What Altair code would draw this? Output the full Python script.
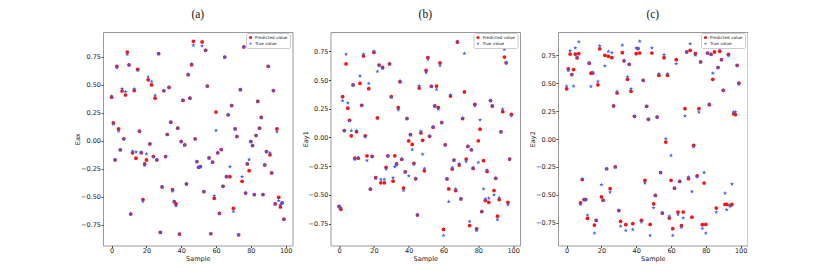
import altair as alt
import pandas as pd

SAMPLES = list(range(100))
SERIES = ["Predicted value", "True value"]

# ---------------- panel (a): Eax ----------------
a_pred = [0.39, 0.16, -0.17, 0.665, 0.107, -0.08, 0.445, 0.018, 0.41, 0.794,
          0.68, -0.654, -0.107, 0.45, -0.155, 0.639, 0.087, -0.107, -0.525, -0.206,
          -0.17, 0.546, -0.027, 0.50, -0.14, 0.382, -0.17, 0.779, -0.818, -0.412,
          0.448, -0.14, 0.057, 0.478, 0.167, -0.436, -0.543, -0.564, 0.113, -0.833,
          -0.006, 0.361, -0.036, -0.385, 0.591, 0.382, 0.68, 0.89, 0.018, -0.185,
          -0.236, -0.23, 0.884, -0.454, 0.809, 0.49, -0.152, -0.83, -0.19, -0.513,
          0.257, -0.107, -0.648, -0.078, -0.406, 0.749, -0.32, 0.233, -0.32, 0.316,
          -0.603, 0.107, 0.039, -0.839, 0.457, -0.361, 0.839, -0.466, -0.206, -0.266,
          -0.006, -0.042, -0.48, 0.048, 0.352, 0.113, 0.21, -0.48, -0.215, -0.096,
          0.666, -0.125, -0.287, 0.45, -0.564, 0.107, -0.504, -0.59, -0.555, -0.70]
a_true = [0.40, 0.15, -0.17, 0.654, 0.087, -0.08, 0.466, 0.02, 0.44, 0.773,
          0.675, -0.65, -0.093, 0.466, -0.10, 0.63, 0.087, -0.10, -0.54, -0.22,
          -0.116, 0.57, -0.027, 0.531, -0.14, 0.406, -0.17, 0.779, -0.818, -0.412,
          0.448, -0.14, 0.057, 0.478, 0.167, -0.45, -0.543, -0.58, 0.113, -0.833,
          -0.006, 0.361, -0.036, -0.385, 0.591, 0.382, 0.69, 0.854, 0.018, -0.185,
          -0.236, -0.23, 0.848, -0.454, 0.809, 0.49, -0.152, -0.83, -0.19, -0.49,
          0.093, -0.107, -0.648, -0.078, -0.406, 0.749, -0.32, 0.233, -0.23, 0.316,
          -0.63, 0.107, 0.039, -0.839, 0.457, -0.32, 0.839, -0.466, -0.206, -0.167,
          -0.006, -0.042, -0.48, 0.048, 0.352, 0.113, 0.212, -0.48, -0.215, -0.096,
          0.666, -0.107, -0.287, 0.45, -0.564, 0.083, -0.534, -0.57, -0.555, -0.70]

# ---------------- panel (b): Eay1 ----------------
b_pred = [-0.60, -0.625, 0.355, 0.06, 0.64, 0.255, 0.15, 0.015, 0.457, -0.18,
          0.05, -0.18, 0.47, 0.28, 0.71, 0.015, -0.16, 0.425, -0.45, -0.165,
          0.74, -0.35, 0.17, 0.63, -0.395, 0.61, -0.395, -0.26, -0.16, 0.64,
          0.355, -0.38, -0.16, -0.23, 0.26, 0.485, -0.19, -0.44, -0.30, 0.165,
          -0.03, 0.025, -0.06, -0.225, -0.36, -0.675, 0.43, 0.04, -0.025, -0.29,
          0.585, 0.695, 0.01, 0.445, 0.09, 0.275, 0.448, 0.26, 0.65, 0.13,
          -0.80, -0.064, -0.361, -0.448, 0.361, -0.275, -0.197, -0.462, 0.829, -0.24,
          -0.535, 0.165, 0.396, -0.188, -0.078, -0.766, -0.107, -0.269, 0.289, -0.795,
          -0.029, 0.072, -0.645, -0.202, -0.549, -0.295, -0.564, 0.321, 0.275, -0.462,
          -0.355, -0.685, -0.54, 0.049, 0.225, 0.70, 0.65, -0.564, -0.188, 0.202]
b_true = [-0.607, -0.61, 0.32, 0.06, 0.725, 0.30, 0.145, 0.06, 0.46, -0.19,
          0.06, -0.175, 0.535, 0.28, 0.725, 0.005, -0.20, 0.47, -0.45, -0.165,
          0.75, -0.355, 0.575, 0.625, -0.365, 0.60, -0.365, -0.275, -0.165, 0.64,
          0.35, -0.35, -0.255, -0.24, 0.24, 0.495, -0.185, -0.46, -0.30, 0.165,
          -0.335, 0.02, -0.105, -0.235, -0.355, -0.67, 0.45, 0.055, -0.145, -0.27,
          0.565, 0.68, 0.015, 0.445, 0.095, 0.27, 0.419, 0.246, 0.627, 0.13,
          -0.853, -0.064, -0.361, -0.558, 0.37, -0.26, -0.197, -0.448, 0.838, -0.228,
          -0.535, 0.17, 0.731, -0.208, -0.078, -0.731, -0.107, -0.26, 0.275, -0.81,
          -0.217, 0.153, -0.645, -0.448, -0.535, -0.283, -0.529, 0.321, 0.269, -0.50,
          -0.355, -0.714, -0.523, 0.049, 0.246, 0.766, 0.65, -0.584, -0.188, 0.188]

# ---------------- panel (c): Eay2 ----------------
c_pred = [0.45, 0.628, 0.76, 0.577, 0.622, 0.759, 0.726, 0.765, -0.571, -0.363,
          -0.542, -0.542, -0.711, 0.679, 0.589, 0.59, -0.77, -0.729, 0.485, 0.807,
          -0.518, -0.548, 0.749, -0.266, 0.74, -0.445, 0.728, 0.296, -0.25, 0.412,
          -0.64, -0.737, 0.773, 0.70, -0.767, 0.534, 0.669, 0.427, -0.758, 0.203,
          0.764, 0.81, 0.77, -0.728, 0.525, -0.37, 0.293, 0.176, -0.764, 0.77,
          -0.58, -0.505, 0.197, 0.57, -0.30, -0.663, 0.728, -0.027, 0.57, -0.707,
          -0.37, -0.803, -0.44, 0.71, -0.654, -0.38, -0.776, -0.654, 0.272, 0.78,
          -0.355, 0.794, -0.70, -0.057, 0.764, -0.33, 0.272, 0.69, -0.767, -0.394,
          -0.764, 0.77, 0.307, 0.758, 0.534, 0.78, -0.618, 0.64, 0.785, 0.71,
          0.436, -0.585, -0.585, 0.758, -0.594, -0.585, 0.227, 0.218, 0.66, 0.50]
c_true = [0.473, 0.613, 0.79, 0.577, 0.473, 0.815, 0.732, 0.872, -0.586, -0.354,
          -0.542, -0.542, -0.682, 0.684, 0.47, 0.595, -0.842, -0.729, 0.515, 0.836,
          -0.408, -0.548, 0.654, -0.266, 0.785, -0.475, 0.773, 0.296, -0.25, 0.427,
          -0.64, -0.78, 0.84, 0.70, -0.818, 0.555, 0.669, 0.45, -0.81, 0.203,
          0.815, 0.81, 0.875, -0.743, 0.525, -0.394, 0.293, 0.176, -0.863, 0.815,
          -0.615, -0.505, 0.197, 0.585, -0.30, -0.663, 0.755, 0.003, 0.585, -0.69,
          -0.146, -0.863, -0.44, 0.675, -0.675, -0.38, -0.79, -0.707, 0.206, 0.78,
          -0.34, 0.854, -0.47, -0.07, 0.75, -0.34, 0.24, 0.69, -0.80, -0.30,
          -0.842, 0.77, 0.316, 0.758, 0.59, 0.824, -0.654, 0.64, 0.81, 0.71,
          0.436, -0.484, -0.633, 0.743, -0.60, -0.403, 0.242, 0.242, 0.654, 0.49]

RED = "#f41414"
BLUE = "#3a5cf6"
STAR = ("M0,-1L0.2245,-0.309L0.951,-0.309L0.363,0.118L0.588,0.809L0,0.382"
        "L-0.588,0.809L-0.363,0.118L-0.951,-0.309L-0.2245,-0.309Z")

Y_TICKS = [-0.75, -0.5, -0.25, 0.0, 0.25, 0.5, 0.75]
X_TICKS = [0, 20, 40, 60, 80, 100]


def panel(pred, true, ytitle, title, ydomain):
    df = pd.DataFrame({
        "Sample": SAMPLES + SAMPLES,
        "value": pred + true,
        "series": [SERIES[0]] * len(pred) + [SERIES[1]] * len(true),
    })
    leg = alt.Legend(orient="none", legendX=143, legendY=1, title=None,
                     labelFontSize=4.2, labelFont="DejaVu Sans", labelColor="#222",
                     symbolSize=10, padding=2, rowPadding=1.2, labelOffset=2,
                     strokeColor="#cccccc", fillColor="white", cornerRadius=1.5)
    return alt.Chart(df, title=alt.Title(title, font="Liberation Serif", fontSize=11.5,
                                         fontWeight="normal", color="#111",
                                         anchor="middle", offset=12)).mark_point(
        filled=True, opacity=1
    ).encode(
        x=alt.X("Sample:Q",
                scale=alt.Scale(domain=[-4.95, 103.95], nice=False, zero=False),
                axis=alt.Axis(values=X_TICKS, title="Sample", labelPadding=0,
                              titlePadding=1, titleColor="#222")),
        y=alt.Y("value:Q",
                scale=alt.Scale(domain=ydomain, nice=False, zero=False),
                axis=alt.Axis(values=Y_TICKS, format=".2f", title=ytitle,
                              labelPadding=0.5, titlePadding=0, titleColor="#222")),
        color=alt.Color("series:N", scale=alt.Scale(domain=SERIES, range=[RED, BLUE]),
                        legend=leg),
        shape=alt.Shape("series:N", scale=alt.Scale(domain=SERIES, range=["circle", STAR]),
                        legend=leg),
        size=alt.Size("series:N", scale=alt.Scale(domain=SERIES, range=[14, 20]),
                      legend=None),
    ).properties(width=189.5, height=213.5)


pa = panel(a_pred, a_true, "Eax", "(a)", [-0.935, 0.973])
pb = panel(b_pred, b_true, "Eay1", "(b)", [-0.94, 0.918])
pc = panel(c_pred, c_true, "Eay2", "(c)", [-0.953, 0.958])

chart = alt.hconcat(pa, pb, pc, spacing=8.5).resolve_legend(
    color="independent", shape="independent"
).properties(
    padding={"left": 66, "top": 0, "right": 0, "bottom": 0}
).configure_axis(
    labelFont="DejaVu Sans", labelFontSize=6.5, labelColor="#222",
    titleFont="DejaVu Sans", titleFontSize=6.5, titleFontWeight="normal",
    titleColor="#222", tickSize=2, tickColor="#444", domain=False, grid=False,
).configure_view(stroke="#999", strokeWidth=1)

chart.save("out.html", embed_options={"renderer": "svg", "actions": False})
